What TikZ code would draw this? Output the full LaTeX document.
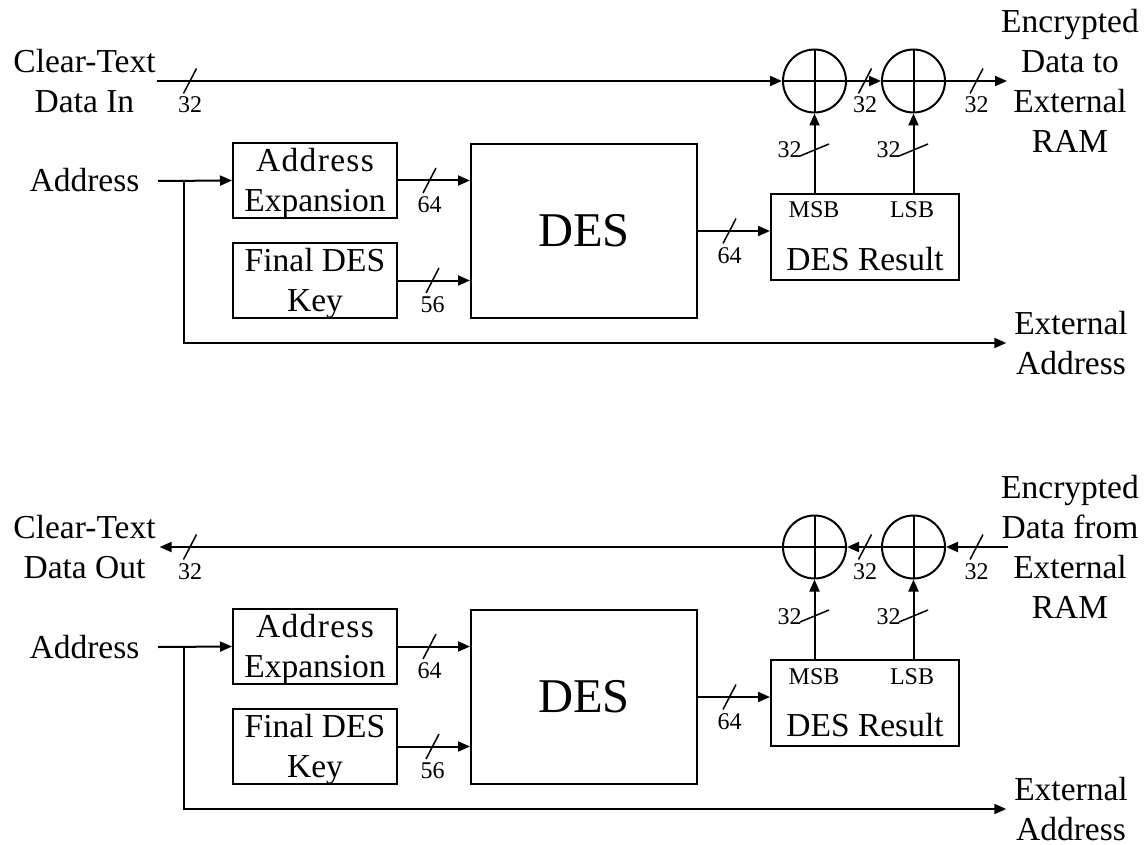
\documentclass[tikz,border=0pt]{standalone}
\usepackage{fontspec}
\setmainfont{Liberation Serif}
\usetikzlibrary{arrows.meta}
\tikzset{
  lbl/.style={inner sep=0pt, align=center, font=\fontsize{33.5}{40}\selectfont},
  blk/.style={draw, inner sep=0pt, align=center, font=\fontsize{33.5}{40}\selectfont},
  bw/.style={inner sep=0pt, anchor=base, font=\fontsize{24}{28}\selectfont},
  xor/.style={draw, circle, minimum size=63pt, inner sep=0pt,
    path picture={\draw (path picture bounding box.north) -- (path picture bounding box.south)
                        (path picture bounding box.west) -- (path picture bounding box.east);}},
  arr/.style={-{Triangle[length=12pt,width=10pt]}},
  busmark/.style={line width=1.5pt},
}
\newcommand\busmarkH[4]{%
  \draw[busmark] (#2,#3) ++(-6.5,12.5) -- ++(13,-25);
  \node[bw] (#1) at (#2,#3+32) {#4};}
\newcommand\busmarkV[4]{%
  \draw[busmark] (#2,#3) ++(-14.5,6) -- ++(29,-12);
  \node[bw] (#1) at (#2-25,#3+8) {#4};}
\newcommand\deshalf[2]{%
  \begin{scope}[shift={(0,#2)}]
  \node[lbl, anchor=base] (#1addr) at (84.5,192) {Address};
  \coordinate (#1ain) at (158,181);
  \coordinate (#1br) at (184,181);
  \node[blk, minimum width=164pt, minimum height=75pt] (#1ae) at (315,180.5) {};
  \node[lbl] (#1aet) at (315,183) {\addfontfeature{LetterSpace=4}Address\\Expansion};
  \node[blk, minimum width=164pt, minimum height=75pt] (#1fk) at (315,280.5) {};
  \node[lbl] (#1fkt) at (315,283) {Final DES\\Key};
  \node[blk, minimum width=226pt, minimum height=174pt, font=\fontsize{48.5}{55}\selectfont] (#1des) at (584,231) {DES};
  \node[blk, minimum width=188pt, minimum height=86pt] (#1dr) at (865,237) {};
  \node[bw] (#1msb) at (814,218) {MSB};
  \node[bw] (#1lsb) at (912,218) {LSB};
  \node[lbl, anchor=base] (#1drt) at (865,270) {DES Result};
  \node[xor] (#1x1) at (814.5,81) {};
  \node[xor] (#1x2) at (913.5,81) {};
  \node[lbl] (#1ext) at (1071,343) {External\\Address};
  \draw[arr] (#1ain) -- (#1ae.west);
  \draw[arr, shorten >=7pt] (#1br) |- (#1ext.west);
  \draw[arr] (#1ae.east) -- (#1ae.east -| #1des.west);
  \draw[arr] (#1fk.east) -- (#1fk.east -| #1des.west);
  \draw[arr] (#1des.east) -- (#1des.east -| #1dr.west);
  \draw[arr] (#1x1 |- #1dr.north) -- (#1x1.south);
  \draw[arr] (#1x2 |- #1dr.north) -- (#1x2.south);
  \busmarkH{#1wa}{429.5}{180.5}{64}
  \busmarkH{#1wk}{432.5}{280.5}{56}
  \busmarkH{#1wd}{729.5}{231}{64}
  \busmarkV{#1wm}{814.5}{150}{32}
  \busmarkV{#1wl}{913.5}{150}{32}
  \busmarkH{#1wi}{190}{81}{32}
  \busmarkH{#1wx}{865}{81}{32}
  \busmarkH{#1wo}{976.5}{81}{32}
  \end{scope}}
\begin{document}
\begin{tikzpicture}[x=1pt,y=-1pt,line width=2pt]
\useasboundingbox (0,0) rectangle (1145,845);
\deshalf{t}{0}
\deshalf{b}{466}
% top: encryption
\node[lbl] (cin) at (84.5,81) {Clear-Text\\Data In};
\node[lbl] (eto) at (1070,81) {Encrypted\\Data to\\External\\RAM};
\coordinate (eout) at (1007,81);
\draw[arr] (cin.east) -- (tx1.west);
\draw[arr] (tx1.east) -- (tx2.west);
\draw[arr] (tx2.east) -- (eout);
% bottom: decryption
\node[lbl] (cout) at (84.5,547) {Clear-Text\\Data Out};
\node[lbl] (efrom) at (1070,547) {Encrypted\\Data from\\External\\RAM};
\coordinate (ein) at (1008,547);
\draw[arr] (ein) -- (bx2.east);
\draw[arr] (bx2.west) -- (bx1.east);
\draw[arr, shorten >=3pt] (bx1.west) -- (cout.east);
\end{tikzpicture}
\end{document}
